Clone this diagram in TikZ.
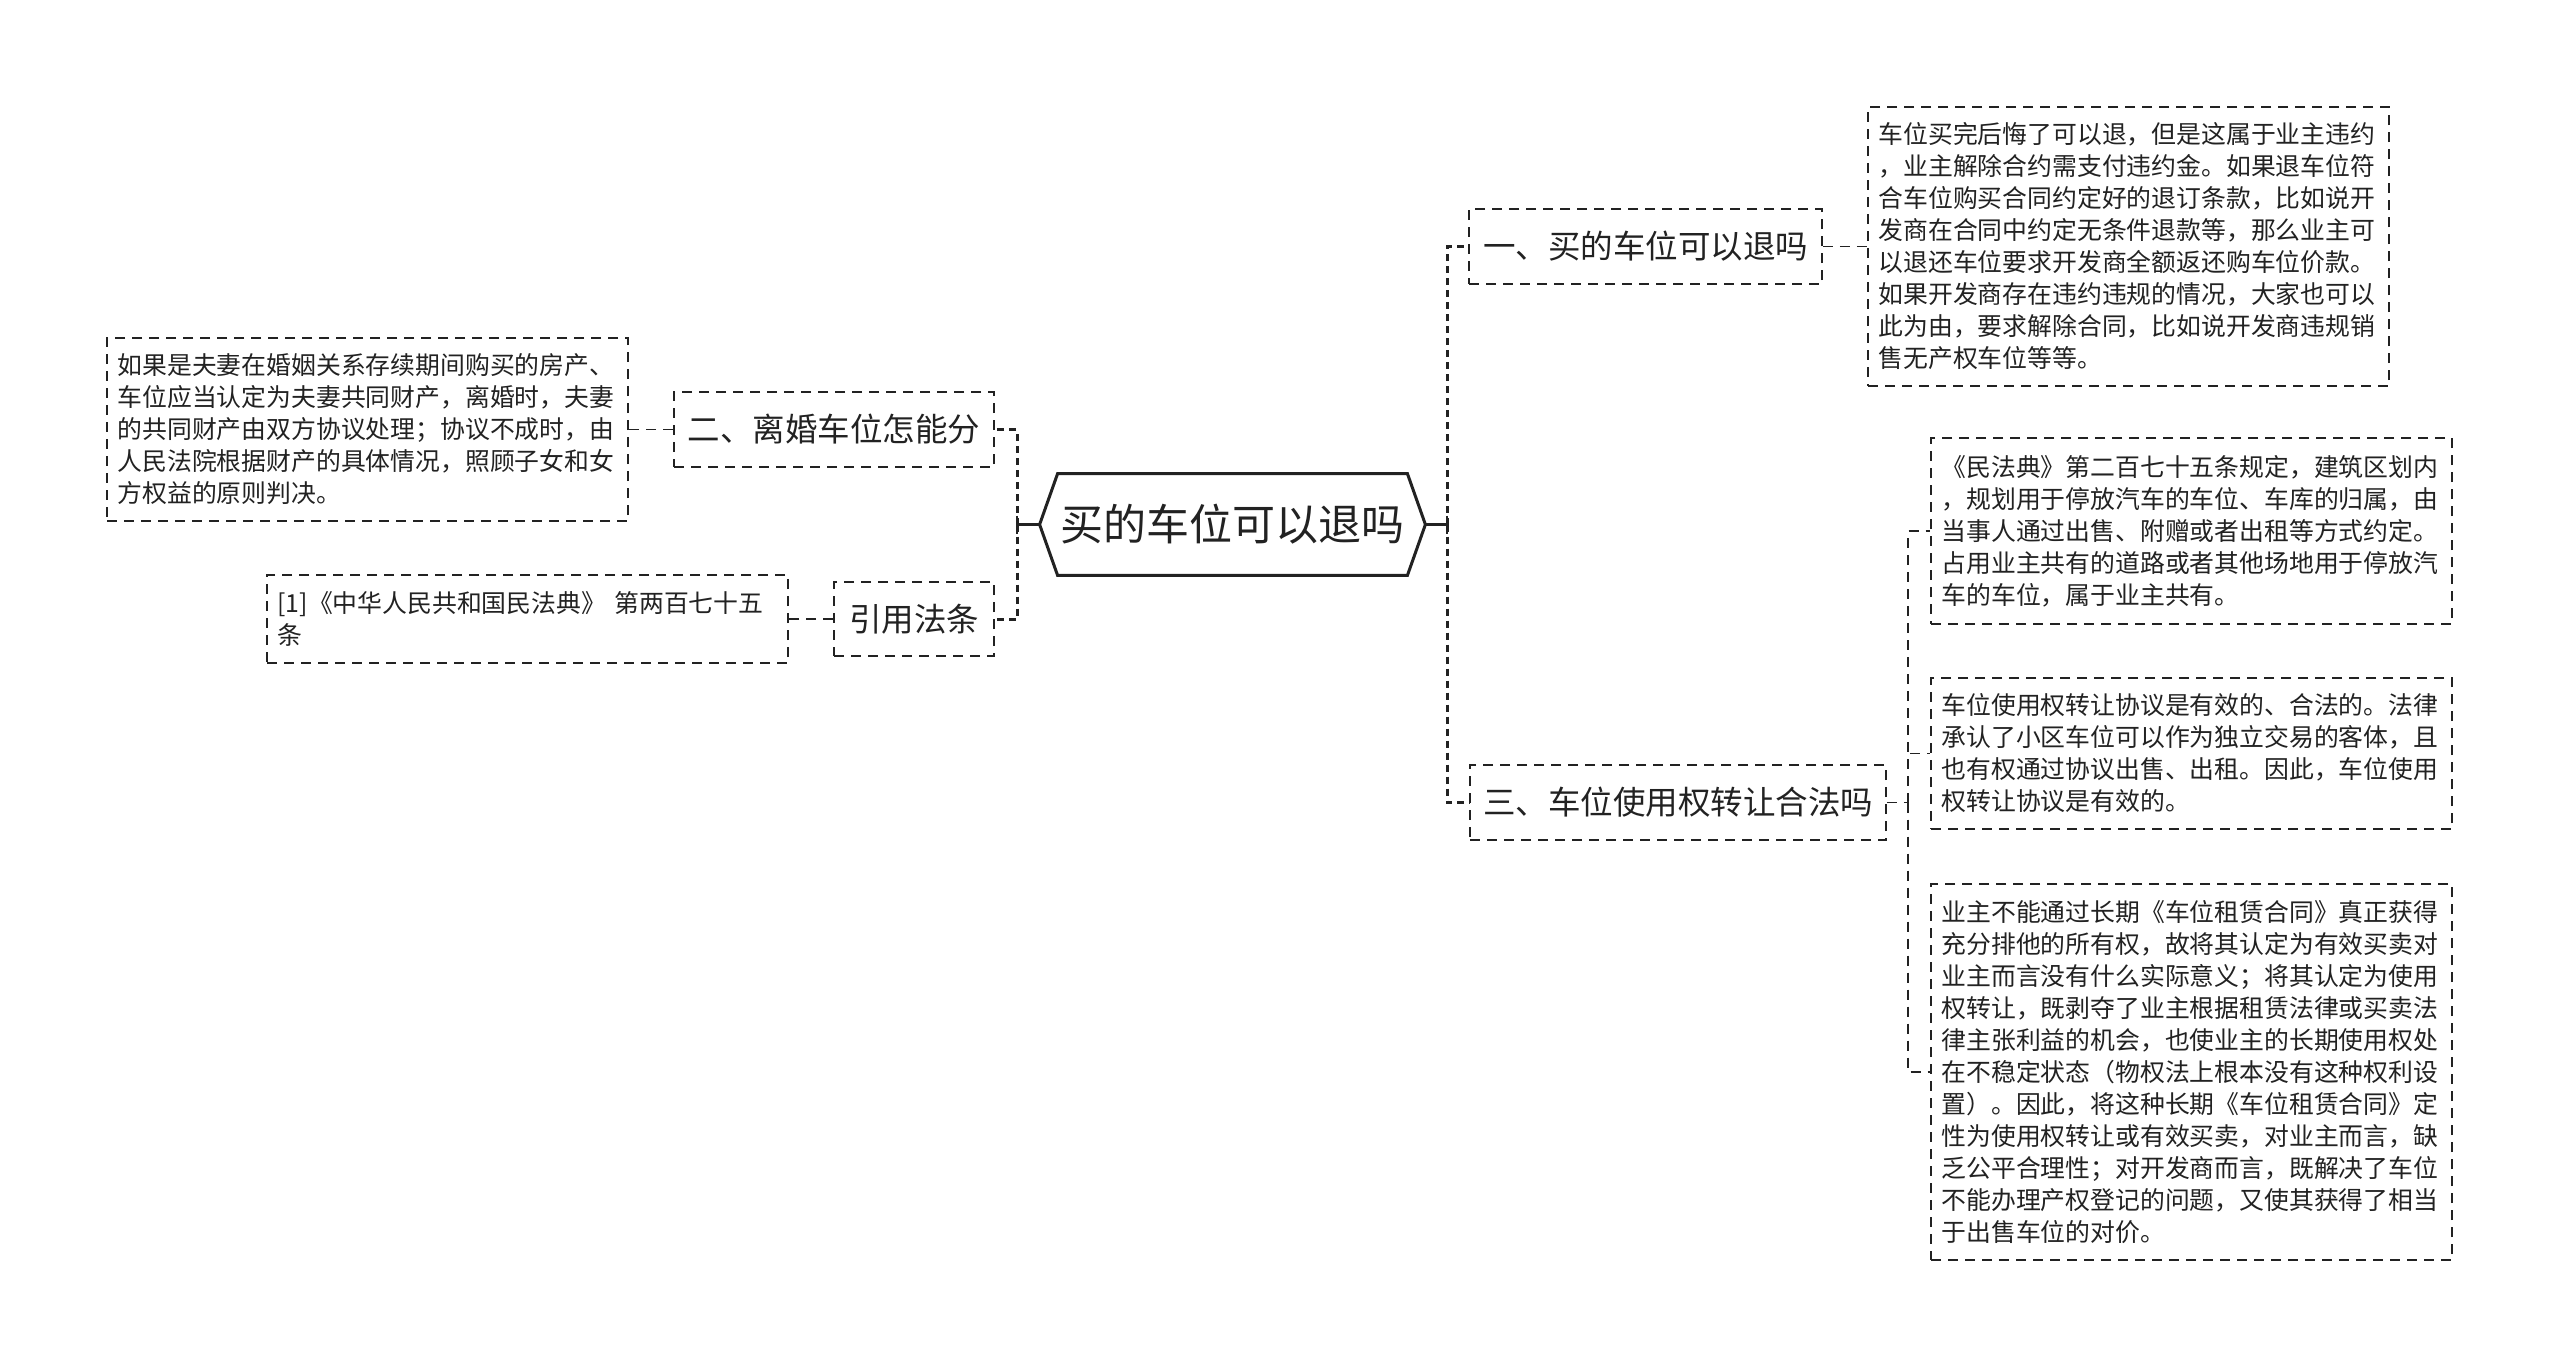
\documentclass[tikz,border=0pt]{standalone}
\usepackage{fontspec}
\setmainfont{Noto Sans CJK SC}
\usetikzlibrary{calc}
\definecolor{ink}{HTML}{222222}
\tikzset{
  leaf/.style={draw=ink, text=ink, line width=0.85pt, dash pattern=on 5pt off 3.5pt,
    align=left, text width=250pt, inner xsep=5.25pt, inner ysep=0pt,
    font=\fontsize{12.42pt}{16pt}\selectfont},
  branch/.style={draw=ink, text=ink, line width=0.85pt, dash pattern=on 5pt off 3.5pt,
    inner sep=0pt, minimum height=37.5pt, font=\fontsize{16.25pt}{20pt}\selectfont},
  rootbox/.style={draw=none, text=ink, inner sep=0pt, minimum width=174.5pt,
    minimum height=50.5pt, font=\fontsize{21.5pt}{26pt}\selectfont},
  hexline/.style={draw=ink, line width=1.5pt, line join=miter},
  stub/.style={draw=ink, line width=1.1pt},
  barline/.style={draw=ink, line width=1.4pt},
  trunk/.style={draw=ink, line width=1.5pt, dash pattern=on 3.5pt off 2.5pt},
  conn/.style={draw=ink, line width=0.85pt, dash pattern=on 5pt off 3.5pt}
}
\begin{document}
\begin{tikzpicture}[x=0.5pt,y=-0.5pt]
\useasboundingbox (0,0) rectangle (2560,1367);
\fill[white] (0,0) rectangle (2560,1367);

% root
\node[rootbox] (root) at (1232.5,524.5) {买的车位可以退吗};
\coordinate (rootL) at ($(root.west)+(-18,0)$);
\coordinate (rootR) at ($(root.east)+(18,0)$);
\draw[hexline] (rootL) -- (root.north west) -- (root.north east) -- (rootR)
  -- (root.south east) -- (root.south west) -- cycle;

% right side
\node[branch, minimum width=176.5pt] (b1) at (1645.5,246.5) {一、买的车位可以退吗};
\node[leaf, minimum height=139.5pt] (t1) at (2128.5,246.5) {车位买完后悔了可以退，但是这属于业主违约\\
，业主解除合约需支付违约金。如果退车位符\\
合车位购买合同约定好的退订条款，比如说开\\
发商在合同中约定无条件退款等，那么业主可\\
以退还车位要求开发商全额返还购车位价款。\\
如果开发商存在违约违规的情况，大家也可以\\
此为由，要求解除合同，比如说开发商违规销\\
售无产权车位等等。};

\node[branch, minimum width=208pt] (b3) at (1678,802.5) {三、车位使用权转让合法吗};
\node[leaf, minimum height=93pt] (cA) at (2191.5,531) {《民法典》第二百七十五条规定，建筑区划内\\
，规划用于停放汽车的车位、车库的归属，由\\
当事人通过出售、附赠或者出租等方式约定。\\
占用业主共有的道路或者其他场地用于停放汽\\
车的车位，属于业主共有。};
\node[leaf, minimum height=75.5pt] (cB) at (2191.5,753.5) {车位使用权转让协议是有效的、合法的。法律\\
承认了小区车位可以作为独立交易的客体，且\\
也有权通过协议出售、出租。因此，车位使用\\
权转让协议是有效的。};
\node[leaf, minimum height=188pt] (cC) at (2191.5,1072) {业主不能通过长期《车位租赁合同》真正获得\\
充分排他的所有权，故将其认定为有效买卖对\\
业主而言没有什么实际意义；将其认定为使用\\
权转让，既剥夺了业主根据租赁法律或买卖法\\
律主张利益的机会，也使业主的长期使用权处\\
在不稳定状态（物权法上根本没有这种权利设\\
置）。因此，将这种长期《车位租赁合同》定\\
性为使用权转让或有效买卖，对业主而言，缺\\
乏公平合理性；对开发商而言，既解决了车位\\
不能办理产权登记的问题，又使其获得了相当\\
于出售车位的对价。};

% left side
\node[branch, minimum width=160pt] (b2) at (834,429.5) {二、离婚车位怎能分};
\node[leaf, minimum height=91.5pt] (tL) at (367.5,429.5) {如果是夫妻在婚姻关系存续期间购买的房产、\\
车位应当认定为夫妻共同财产，离婚时，夫妻\\
的共同财产由双方协议处理；协议不成时，由\\
人民法院根据财产的具体情况，照顾子女和女\\
方权益的原则判决。};
\node[branch, minimum width=80pt, minimum height=37pt] (law) at (914,619) {引用法条};
\node[leaf, minimum height=44pt] (cite) at (527.5,619) {[1]《中华人民共和国民法典》 第两百七十五\\
条};

% junctions
\coordinate (lj) at (1017,524.5);
\coordinate (rj) at (1447,524.5);
\coordinate (j3) at (1908,802.5);

% root stubs
\draw[stub] (rootL) -- (lj);
\draw[stub] (rootR) -- (rj);
\draw[barline] ($(lj)+(0,-9)$) -- ($(lj)+(0,9)$);
\draw[barline] ($(rj)+(0,-9)$) -- ($(rj)+(0,9)$);

% trunks
\draw[trunk] (lj) |- (b2.east);
\draw[trunk] (lj) |- (law.east);
\draw[trunk] (rj) |- (b1.west);
\draw[trunk] (rj) |- (b3.west);

% leaf connectors
\draw[conn] (b1.east) -- (t1.west);
\draw[conn] (b2.west) -- (tL.east);
\draw[conn] (law.west) -- (cite.east);
\draw[conn] (b3.east) -- (j3);
\draw[conn] (j3) |- (cA.west);
\draw[conn] (j3) |- (cB.west);
\draw[conn] (j3) |- (cC.west);
\end{tikzpicture}
\end{document}
